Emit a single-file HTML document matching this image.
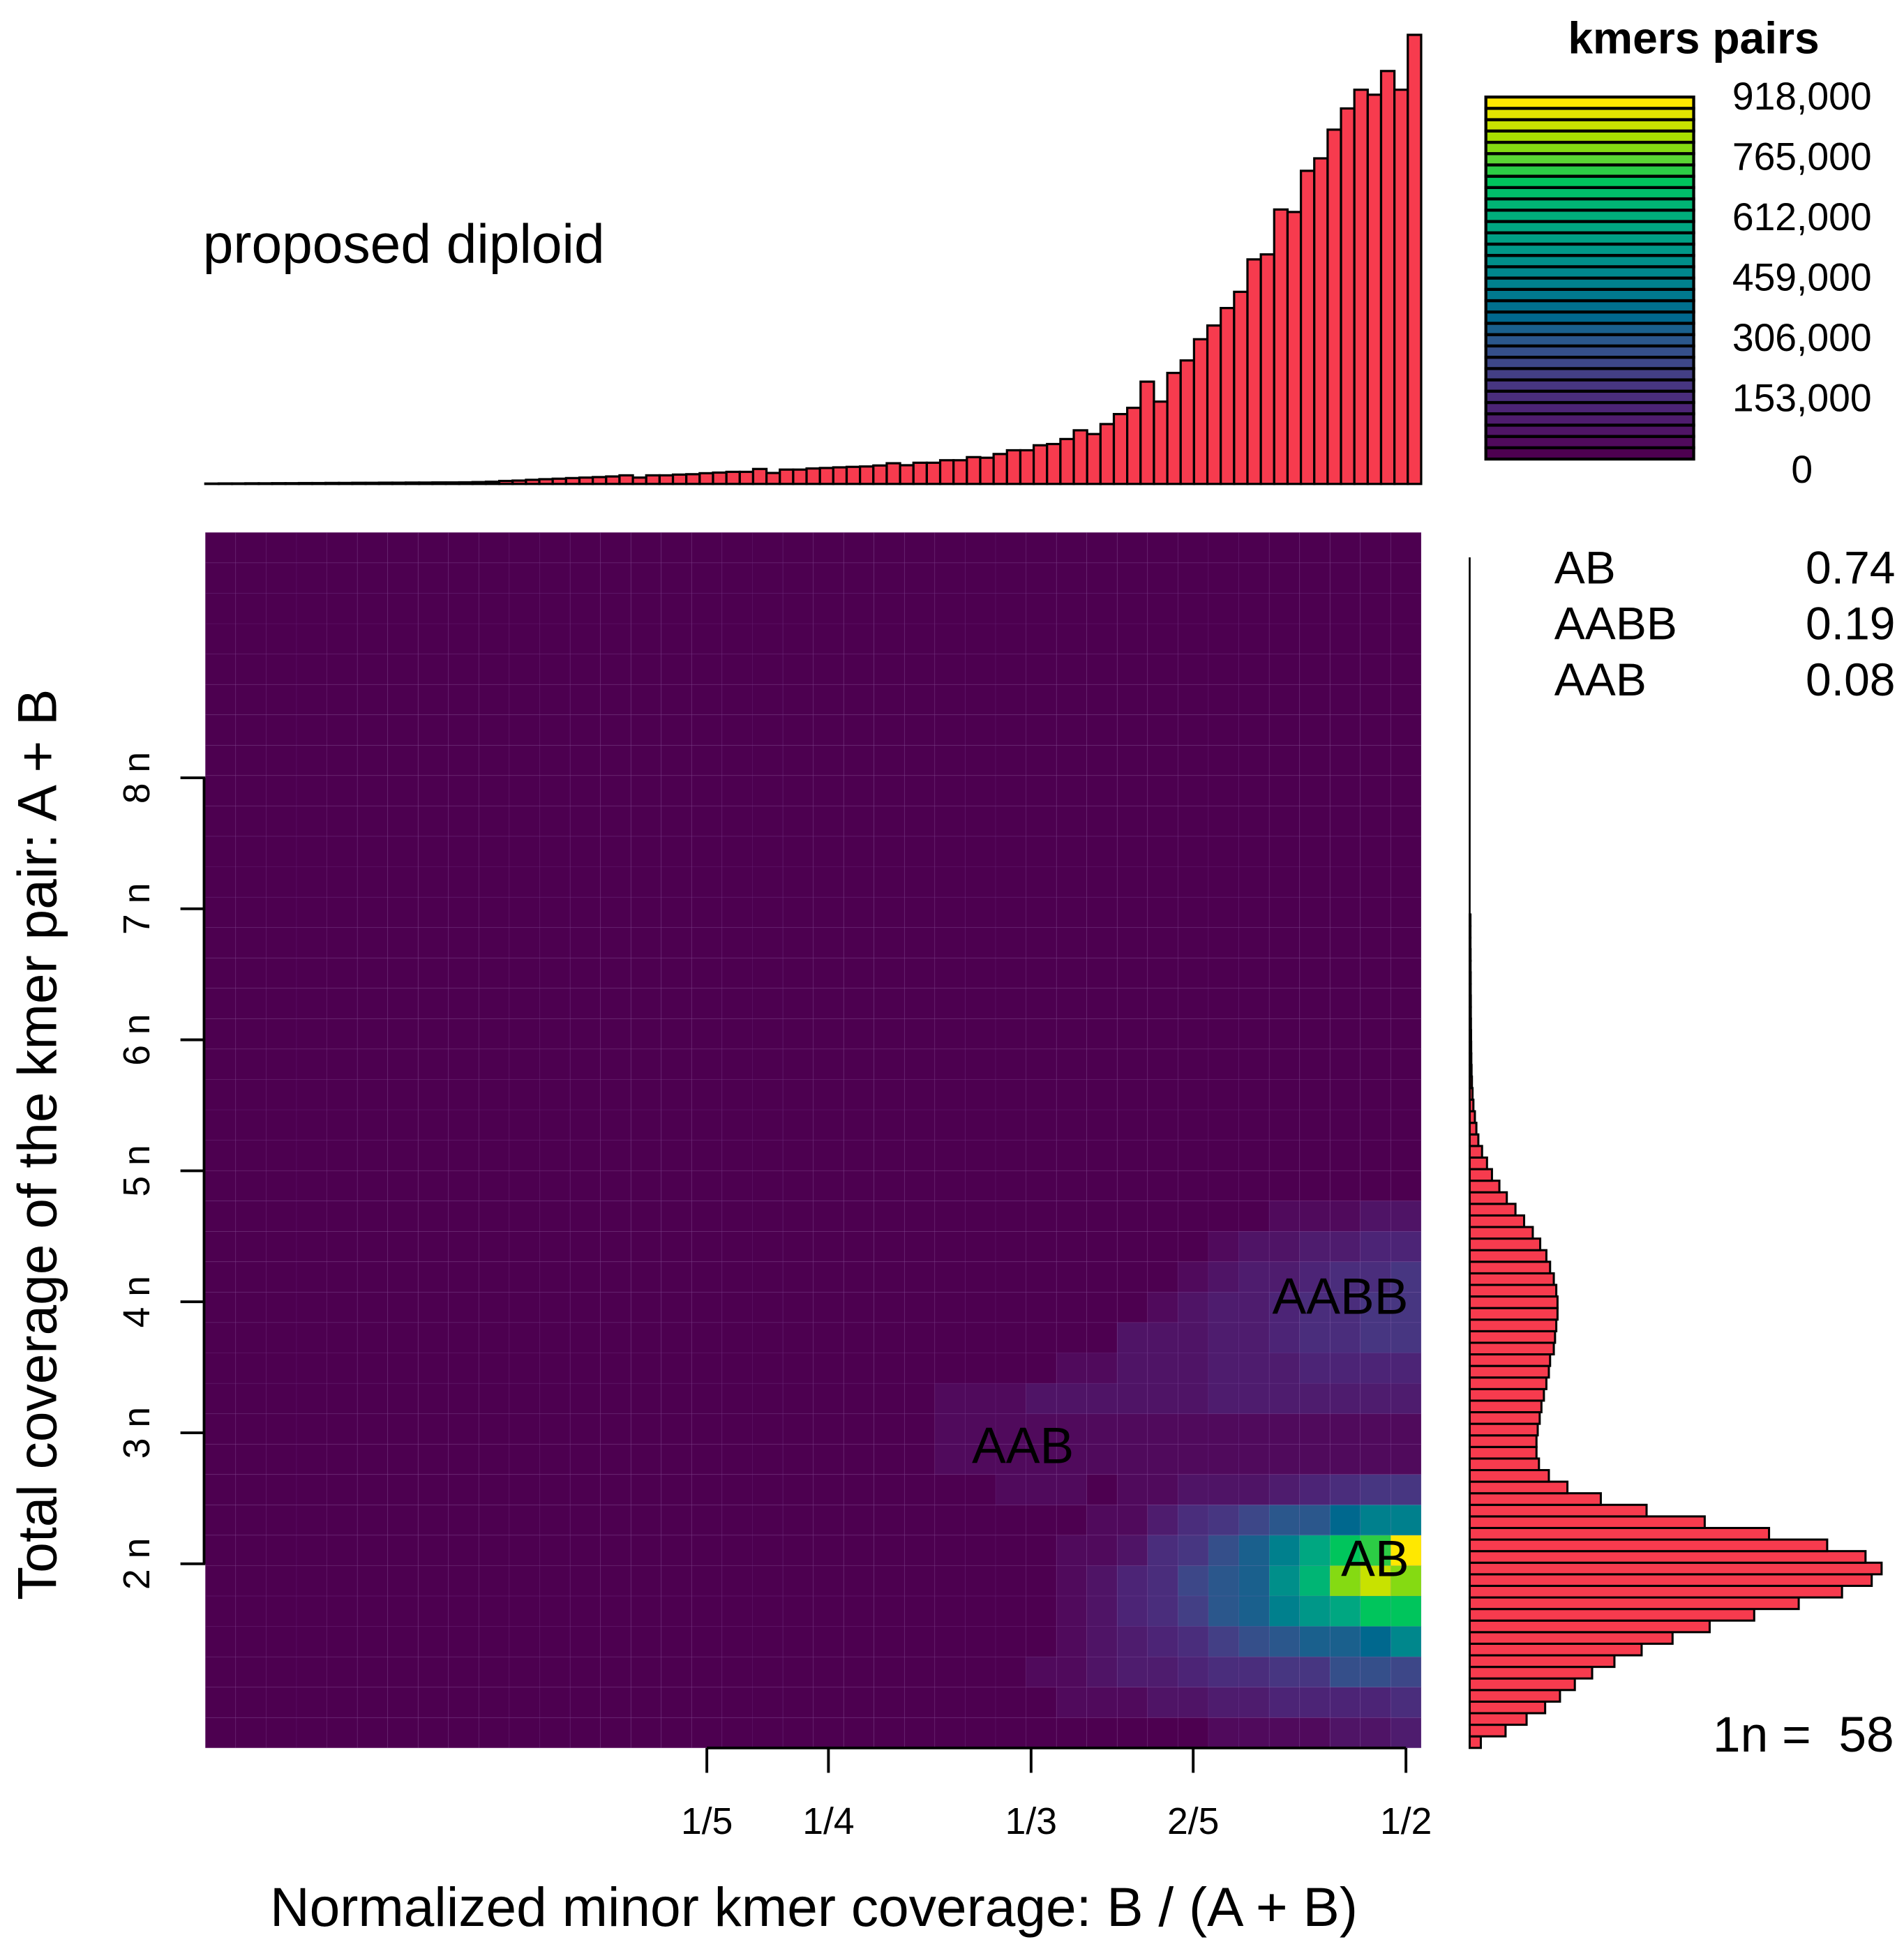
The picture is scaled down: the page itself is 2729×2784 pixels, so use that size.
<!DOCTYPE html>
<html><head><meta charset="utf-8"><style>
html,body{margin:0;padding:0;background:#fff;}
svg{display:block;font-family:"Liberation Sans",Arial,sans-serif;}
</style></head><body>
<svg id="chart" width="2729" height="2784" viewBox="0 0 1530 1561" preserveAspectRatio="none" xmlns="http://www.w3.org/2000/svg">
<g id="heat"></g>
<g id="tophist"></g>
<g id="sidehist"></g>
<g id="cbar"></g>
<g id="axes"></g>
<text x="163" y="211" font-size="44">proposed diploid</text>
<text x="1361" y="43" font-size="36" font-weight="bold" text-anchor="middle">kmers pairs</text>
<g font-size="37">
<text x="1249" y="469">AB</text>
<text x="1523" y="469" text-anchor="end">0.74</text>
<text x="1249" y="514">AABB</text>
<text x="1523" y="514" text-anchor="end">0.19</text>
<text x="1249" y="559">AAB</text>
<text x="1523" y="559" text-anchor="end">0.08</text>
</g>
<text x="1522" y="1408" font-size="40" text-anchor="end" xml:space="preserve">1n =  58</text>
<text x="654" y="1548" font-size="44" text-anchor="middle">Normalized minor kmer coverage: B / (A + B)</text>
<text x="0" y="0" font-size="44" text-anchor="middle" transform="translate(45,920) rotate(-90)">Total coverage of the kmer pair: A + B</text>
<text x="1077" y="1056" font-size="41" text-anchor="middle">AABB</text>
<text x="822" y="1176" font-size="41" text-anchor="middle">AAB</text>
<text x="1105" y="1267" font-size="41" text-anchor="middle">AB</text>
</svg>
<script>
// ---- data ----
const topHistCounts=[0.3,0.4,0.4,0.5,0.5,0.6,0.6,0.7,0.7,0.8,0.8,0.9,0.9,1.0,1.0,1.1,1.1,1.2,1.2,1.3,
1.5,1.8,2.4,2.7,3.3,3.8,4.2,4.7,5.1,5.5,6,6.9,5.1,6.9,6.9,7.5,7.8,8.6,9.1,9.7,
9.7,12,8.8,11.5,11.5,12.4,12.8,13.3,13.7,14,14.8,16.6,15,17,17,19,19,21.5,21,24,
27,27,31,32,36,43,40,48,56,61,82,66,89,99,116,127,141,154,180,184,
220,218,251,261,284,301,316,312,331,316,360];
const sideHistCounts=[9,29,46,61,73,85,99,117,139,164,194,230,266,301,325,333,320,289,242,190,
143,106,79,64,56,54,54,55,56.6,58,60,62,64,65,68,69,70,71,71,70,
68,65,62,57,51,44,37,30,24,18,14,10,7,5.4,4.2,3,2.3,1.8,1.5,1.3,
1.2,1.1,1.0,0.9,0.9,0.8,0.8,0.7,0.7,0.6,0.6,0.6,0.5,0.5,0.5,0.4,0.4,0.4,0.4,0.3,
0.3,0.3,0.3,0.3,0.3,0.2,0.2,0.2,0.2,0.2,0.2,0.2,0.2,0.2,0.1,0.1,0.1,0.1,0.1,0.1,0.1,0.1,0.1,0,0];
// heatmap counts (thousands); rows from bottom, columns from right edge leftward
const heatRows=[
[89,59,59,30,30,30,30],
[148,118,118,118,118,89,89,59,59,30,30,30],
[237,266,266,178,178,148,148,118,89,89,59,30,30],
[474,355,326,326,296,266,207,148,118,89,59,30],
[711,711,592,533,444,326,296,207,148,118,59,30],
[799,859,799,651,503,326,296,237,148,118,59,30],
[918,740,711,592,444,326,266,178,148,59,30,30],
[444,444,355,296,296,237,178,148,89,30,15],
[178,178,148,118,89,59,59,59,30,30,0,30,30,30],
[30,30,30,30,30,30,30,30,30,30,30,30,30,30,30,30],
[30,30,30,30,30,30,30,30,30,30,30,30,30,30,30,30],
[89,89,89,89,89,89,89,59,59,59,59,59,59,30,30,30],
[118,118,118,118,89,89,89,59,59,59,30,30],
[178,178,148,148,118,89,89,59,59,59],
[178,178,148,148,118,89,89,59,30],
[178,148,148,118,89,89,59,30],
[118,118,89,89,59,59,30],
[59,59,30,30,30]
];
const legendLabels=["0","153,000","306,000","459,000","612,000","765,000","918,000"];
const legendValues=[0,153,306,459,612,765,918];
const xTickLabels=["1/5","1/4","1/3","2/5","1/2"];
const xTickValues=[1/5,1/4,1/3,2/5,1/2];
const yTickLabels=["2 n","3 n","4 n","5 n","6 n","7 n","8 n"];
const yTickValues=[2,3,4,5,6,7,8];
const palette=["#4d0050","#500a5c","#4f1466","#4e1c6e","#4c2476","#4a2d7c","#473681","#433f85","#3d4788","#354f8a","#2b578c","#1a608d","#00688e","#00708e","#00788e","#00808d","#00878c","#008f8a","#009788","#009f85","#00a781","#00ae7b","#00b574","#00bd6a","#00c55c","#2ccd45","#5ad534","#85da12","#a8de00","#c8e200","#e4e500","#ffe800"];
// ---- geometry ----
const NS="http://www.w3.org/2000/svg";
const HX0=165,HX1=1142,HY0=428,HY1=1405,NC=40,CELL=(HX1-HX0)/NC,MAXC=918;
function mk(tag,attrs,parent){const e=document.createElementNS(NS,tag);for(const k in attrs)e.setAttribute(k,attrs[k]);parent.appendChild(e);return e;}
function colorFor(v){return palette[Math.max(0,Math.min(31,Math.round(v/MAXC*31)))];}
function xScale(v){return HX0+(Math.min(v*80,39)+0.5)*CELL;}
function yScale(n){return 1257-(n-2)*105.3;}
// heatmap
const heat=document.getElementById('heat');
for(let r=0;r<NC;r++){for(let c=0;c<NC;c++){
  const row=heatRows[r]||[];const ci=NC-1-c;const v=row[ci]||0;
  const el=mk('rect',{x:HX0+c*CELL,y:HY1-(r+1)*CELL,width:CELL,height:CELL,fill:colorFor(v),stroke:"rgba(150,90,190,0.1)","stroke-width":0.6},heat);
  
  
}}
// top histogram
const th=document.getElementById('tophist');const TB=389,TMAX=361,NB=topHistCounts.length,BW=(HX1-HX0)/NB;
const tmax=Math.max(...topHistCounts);
topHistCounts.forEach((v,i)=>{const h=v/tmax*TMAX;
  const el=mk('rect',{x:HX0+i*BW,y:TB-h,width:BW,height:h,fill:"#f73b4e",stroke:"#000","stroke-width":1.8},th);
  
  
});
// side histogram
const sh=document.getElementById('sidehist');const SX=1181,SMAX=331,NSB=105,BH=(HY1-HY0)/NSB;
const smax=Math.max(...sideHistCounts);
mk('line',{x1:SX,y1:448,x2:SX,y2:HY1,stroke:"#000","stroke-width":1.5},sh);
sideHistCounts.forEach((v,i)=>{const w=v/smax*SMAX;if(w<=0.5)return;
  const el=mk('rect',{x:SX,y:HY1-(i+1)*BH,width:w,height:BH,fill:"#f73b4e",stroke:"#000","stroke-width":1.7},sh);
  
  
});
// color legend
const cb=document.getElementById('cbar');const CX=1194,CW=167,CY0=78,CY1=369,SH=(CY1-CY0)/32;
palette.forEach((col,i)=>{const el=mk('rect',{x:CX,y:CY1-(i+1)*SH,width:CW,height:SH,fill:col,stroke:"#000","stroke-width":2.4},cb);
  
  
});
legendValues.forEach((v,i)=>{const y=CY1+ (CY0-CY1)*v/MAXC + 10 + (i==0?9:0);
  const t=mk('text',{x:1448,y:y,"font-size":31,"text-anchor":"middle"},cb);t.textContent=legendLabels[i];
  
  
});
// axes
const ax=document.getElementById('axes');
const xs=xTickValues.map(xScale);
mk('line',{x1:xs[0],y1:HY1,x2:xs[xs.length-1],y2:HY1,stroke:"#000","stroke-width":2.2},ax);
xTickValues.forEach((v,i)=>{const x=xScale(v);
  mk('line',{x1:x,y1:HY1,x2:x,y2:1425,stroke:"#000","stroke-width":2.2},ax);
  const t=mk('text',{x:x,y:1474,"font-size":30,"text-anchor":"middle"},ax);t.textContent=xTickLabels[i];
  
  
});
const ys=yTickValues.map(yScale);
mk('line',{x1:HX0-1,y1:ys[0],x2:HX0-1,y2:ys[ys.length-1],stroke:"#000","stroke-width":2.2},ax);
yTickValues.forEach((v,i)=>{const y=yScale(v);
  mk('line',{x1:145,y1:y,x2:HX0,y2:y,stroke:"#000","stroke-width":2.2},ax);
  const t=mk('text',{x:0,y:0,"font-size":30,"text-anchor":"middle",transform:`translate(120,${y}) rotate(-90)`},ax);t.textContent=yTickLabels[i];
  
  
});
</script>
</body></html>
